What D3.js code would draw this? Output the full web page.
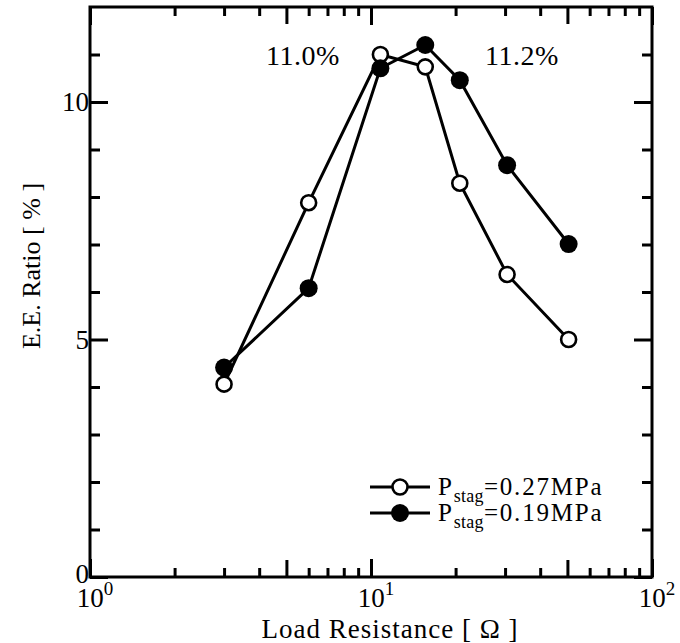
<!DOCTYPE html>
<html>
<head>
<meta charset="utf-8">
<script src="https://cdn.jsdelivr.net/npm/d3@7"></script>
<style>
  html, body { margin: 0; padding: 0; background: #fff; }
  svg { display: block; }
  text { font-family: "Liberation Serif", "Times New Roman", serif; fill: #000; }
</style>
</head>
<body>
<svg id="chart" width="680" height="643"></svg>
<script>
// Load resistance [Ω] for each measurement
const resistance = [3, 6, 10.8, 15.6, 20.7, 30.5, 50.5];
// Electrical-energy conversion ratio [%] at two stagnation pressures
const ratio027 = [4.06, 7.88, 11.0, 10.74, 8.29, 6.37, 5.0];
const ratio019 = [4.41, 6.08, 10.71, 11.2, 10.46, 8.67, 7.01];
const seriesNames = ["0.27MPa", "0.19MPa"];
// Axis ticks
const xDecades = [1, 10, 100];
const xExponents = ["0", "1", "2"];
const yMajor = [0, 5, 10];
const yMinor = [1, 2, 3, 4, 6, 7, 8, 9, 11];
// Peak annotations
const peakLabels = ["11.0%", "11.2%"];

const svg = d3.select("#chart");
const L = 90, R = 652, T = 7, B = 577;

const x = d3.scaleLog().domain([1, 100]).range([L, R]);
const y = d3.scaleLinear().domain([0, 12]).range([B, T]);

const xMinor = [], xMid = [];
[1, 10].forEach(d => {
  for (let k = 2; k <= 9; k++) (k === 5 ? xMid : xMinor).push(d * k);
});

const sw = 3;
const axisStyle = g => {
  g.select(".domain").remove();
  g.selectAll(".tick line").attr("stroke", "#000").attr("stroke-width", sw);
  g.selectAll(".tick text").remove();
};

// Ticks pointing into the plot on all four sides
function xTicks(vals, len) {
  svg.append("g").attr("transform", `translate(0,${B})`)
    .call(d3.axisBottom(x).tickValues(vals).tickSize(-len)).call(axisStyle);
  svg.append("g").attr("transform", `translate(0,${T})`)
    .call(d3.axisTop(x).tickValues(vals).tickSize(-len)).call(axisStyle);
}
function yTicks(vals, len) {
  svg.append("g").attr("transform", `translate(${L},0)`)
    .call(d3.axisLeft(y).tickValues(vals).tickSize(-len)).call(axisStyle);
  svg.append("g").attr("transform", `translate(${R},0)`)
    .call(d3.axisRight(y).tickValues(vals).tickSize(-len)).call(axisStyle);
}
xTicks(xDecades, 18);
xTicks(xMid, 17);
xTicks(xMinor, 9);
yTicks(yMajor, 18);
yTicks(yMinor, 10);

// Frame
svg.append("rect")
  .attr("x", L).attr("y", T).attr("width", R - L).attr("height", B - T)
  .attr("fill", "none").attr("stroke", "#000").attr("stroke-width", sw);

// Y tick labels
svg.append("g").selectAll("text").data(yMajor).join("text")
  .attr("x", L - 1).attr("y", d => y(d) - (d === 0 ? 3 : 0)).attr("dy", "0.34em")
  .attr("text-anchor", "end").attr("font-size", 27)
  .text(d => d);

// X tick labels as powers of ten
xDecades.forEach((d, i) => {
  const t = svg.append("text")
    .attr("x", x(d) + 5).attr("y", 607)
    .attr("text-anchor", "middle").attr("font-size", 27);
  t.append("tspan").text("10");
  t.append("tspan").attr("font-size", 19).attr("dy", -12).text(xExponents[i]);
});

// Axis titles
svg.append("text")
  .attr("x", 390).attr("y", 638).attr("text-anchor", "middle").attr("font-size", 27)
  .attr("letter-spacing", 1)
  .text("Load Resistance [ Ω ]");
svg.append("text")
  .attr("transform", "translate(40,266) rotate(-90)")
  .attr("text-anchor", "middle").attr("font-size", 26)
  .text("E.E. Ratio [ % ]");

// Data lines and markers
const line = d3.line().x(d => x(d[0])).y(d => y(d[1]));
const s027 = resistance.map((r, i) => [r, ratio027[i]]);
const s019 = resistance.map((r, i) => [r, ratio019[i]]);

svg.append("path").datum(s027).attr("d", line)
  .attr("fill", "none").attr("stroke", "#000").attr("stroke-width", sw);
svg.append("path").datum(s019).attr("d", line)
  .attr("fill", "none").attr("stroke", "#000").attr("stroke-width", sw);

svg.append("g").selectAll("circle").data(s027).join("circle")
  .attr("cx", d => x(d[0])).attr("cy", d => y(d[1])).attr("r", 7.5)
  .attr("fill", "#fff").attr("stroke", "#000").attr("stroke-width", 2.6);
svg.append("g").selectAll("circle").data(s019).join("circle")
  .attr("cx", d => x(d[0])).attr("cy", d => y(d[1])).attr("r", 9)
  .attr("fill", "#000");

// Peak annotations
svg.append("text").attr("x", 303).attr("y", 65).attr("text-anchor", "middle")
  .attr("font-size", 28).attr("letter-spacing", 0.5).text(peakLabels[0]);
svg.append("text").attr("x", 522).attr("y", 65).attr("text-anchor", "middle")
  .attr("font-size", 28).attr("letter-spacing", 0.5).text(peakLabels[1]);

// Legend
const legendRows = [
  { y: 487, fill: "#fff", name: seriesNames[0] },
  { y: 513, fill: "#000", name: seriesNames[1] }
];
legendRows.forEach(row => {
  svg.append("line").attr("x1", 370).attr("x2", 430).attr("y1", row.y).attr("y2", row.y)
    .attr("stroke", "#000").attr("stroke-width", sw);
  const c = svg.append("circle").attr("cx", 400).attr("cy", row.y);
  if (row.fill === "#fff") c.attr("r", 7.5).attr("fill", "#fff").attr("stroke", "#000").attr("stroke-width", 2.6);
  else c.attr("r", 9).attr("fill", "#000");
  const t = svg.append("text").attr("x", 438).attr("y", row.y + 8).attr("font-size", 25)
    .attr("letter-spacing", 1.8);
  t.append("tspan").text("P");
  t.append("tspan").attr("font-size", 18).attr("letter-spacing", 0.3).attr("dy", 7).text("stag");
  t.append("tspan").attr("dy", -7).text("=" + row.name);
});
</script>
</body>
</html>
